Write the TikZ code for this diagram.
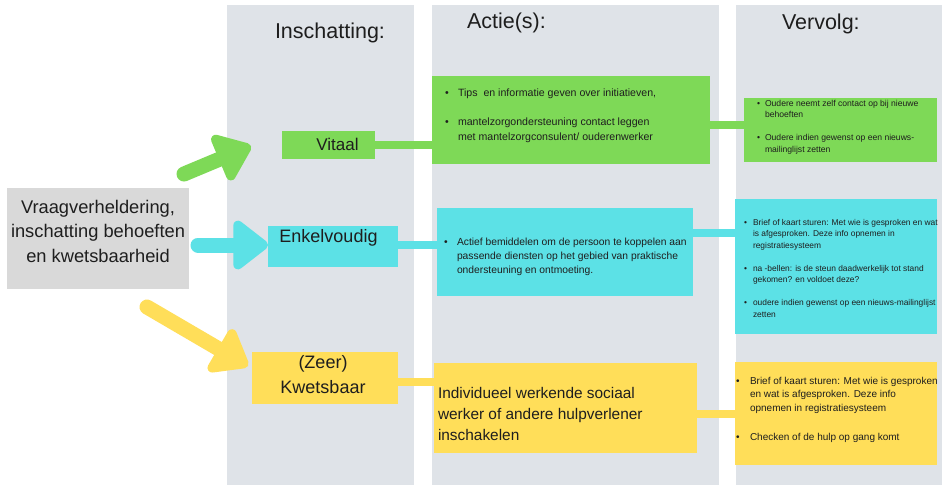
\documentclass[tikz,border=0pt]{standalone}
\usepackage{fontspec}
\setmainfont{Liberation Sans}
\usetikzlibrary{arrows.meta}

\definecolor{colbg}{HTML}{DFE3E8}
\definecolor{srcgray}{HTML}{D9D9D9}
\definecolor{vgreen}{HTML}{7ED957}
\definecolor{vcyan}{HTML}{5CE1E6}
\definecolor{vyellow}{HTML}{FFDE59}
\definecolor{ink}{HTML}{1E1E1E}

% font size / baseline skip
\newcommand\fs[2]{\fontsize{#1}{#2}\selectfont}
% bullet in a fixed-width slot
\newcommand\bu[1]{\makebox[#1][l]{•}}

\begin{document}
\begin{tikzpicture}[x=1pt,y=-1pt,
  box/.style={inner sep=0pt, outer sep=0pt, anchor=north west},
  lbl/.style={inner sep=0pt, outer sep=0pt, text=ink},
  link/.style={line width=8pt},
  bigarrow/.style={line width=15pt, line cap=round,
    -{Triangle[width=56pt,length=38pt,round]}},
]

\fill[white] (0,0) rectangle (942,485);
\useasboundingbox (0,0) rectangle (942,485);

% column backgrounds
\node[box, fill=colbg, minimum width=187pt, minimum height=480pt] (colA) at (227,5) {};
\node[box, fill=colbg, minimum width=287pt, minimum height=480pt] (colB) at (432,5) {};
\node[box, fill=colbg, minimum width=206pt, minimum height=480pt] (colC) at (736,5) {};

% column titles
\node[lbl, font=\fs{21.5}{26}, anchor=base west] (tA) at (275,38) {Inschatting:};
\node[lbl, font=\fs{21.5}{26}, anchor=base west] (tB) at (467,28) {Actie(s):};
\node[lbl, font=\fs{21.5}{26}, anchor=base west] (tC) at (782,29) {Vervolg:};

% starting point
\node[box, fill=srcgray, minimum width=182pt, minimum height=101pt] (src) at (7,188) {};
\node[lbl, font=\fs{18.3}{24.5}, anchor=base] (srct) at (98,213)
  {\begin{tabular}[t]{@{}c@{}}Vraagverheldering,\\ inschatting behoeften\\ en kwetsbaarheid\end{tabular}};

% assessment boxes
\node[box, fill=vgreen, minimum width=93pt, minimum height=28pt] (vit) at (282,131) {};
\node[lbl, font=\fs{17}{20}, anchor=base] (vitt) at (337.5,150) {Vitaal};

\node[box, fill=vcyan, minimum width=130pt, minimum height=41pt] (enk) at (268,226) {};
\node[lbl, font=\fs{18}{22}, anchor=base] (enkt) at (328.5,242) {Enkelvoudig};

\node[box, fill=vyellow, minimum width=146pt, minimum height=52pt] (kw) at (252,352) {};
\node[lbl, font=\fs{18}{25}, anchor=base] (kwt) at (323,368)
  {\begin{tabular}[t]{@{}c@{}}(Zeer)\\ Kwetsbaar\end{tabular}};

% action boxes
\node[box, fill=vgreen, minimum width=278pt, minimum height=88pt] (ga) at (432,76) {};
\node[lbl, font=\fs{10.6}{15}, anchor=base west] (gat) at (445,96)
  {\begin{tabular}[t]{@{}l@{}l@{}}
   \bu{13pt}&Tips\ \ en informatie geven over initiatieven,\\[14pt]
   \bu{13pt}&mantelzorgondersteuning contact leggen\\
   &met mantelzorgconsulent/ ouderenwerker
   \end{tabular}};

\node[box, fill=vcyan, minimum width=256pt, minimum height=88pt] (ca) at (437,208) {};
\node[lbl, font=\fs{10.3}{14}, anchor=base west] (cat) at (444,245)
  {\begin{tabular}[t]{@{}l@{}l@{}}
   \bu{13pt}&Actief bemiddelen om de persoon te koppelen aan\\
   &passende diensten op het gebied van praktische\\
   &ondersteuning en ontmoeting.
   \end{tabular}};

\node[box, fill=vyellow, minimum width=263pt, minimum height=90pt] (ya) at (434,363) {};
\node[lbl, font=\fs{15.4}{21}, anchor=base west] (yat) at (438,398)
  {\begin{tabular}[t]{@{}l@{}}
   Individueel werkende sociaal\\
   werker of andere hulpverlener\\
   inschakelen
   \end{tabular}};

% follow-up boxes
\node[box, fill=vgreen, minimum width=193pt, minimum height=64pt] (gv) at (744,98) {};
\node[lbl, font=\fs{8.6}{11.7}, anchor=base west] (gvt) at (757,106)
  {\begin{tabular}[t]{@{}l@{}l@{}}
   \bu{8pt}&Oudere neemt zelf contact op bij nieuwe\\
   &behoeften\\[11.5pt]
   \bu{8pt}&Oudere indien gewenst op een nieuws-\\
   &mailinglijst zetten
   \end{tabular}};

\node[box, fill=vcyan, minimum width=202pt, minimum height=135pt] (cv) at (735,199) {};
\node[lbl, font=\fs{8.4}{11.5}, anchor=base west] (cvt) at (744,225)
  {\begin{tabular}[t]{@{}l@{}l@{}}
   \bu{9pt}&Brief of kaart sturen: Met wie is gesproken en wat\\
   &is afgesproken. Deze info opnemen in\\
   &registratiesysteem\\[11.5pt]
   \bu{9pt}&na -bellen: is de steun daadwerkelijk tot stand\\
   &gekomen? en voldoet deze?\\[11.5pt]
   \bu{9pt}&oudere indien gewenst op een nieuws-mailinglijst\\
   &zetten
   \end{tabular}};

\node[box, fill=vyellow, minimum width=202pt, minimum height=103pt] (yv) at (735,362) {};
\node[lbl, font=\fs{10}{13.5}, anchor=base west] (yvt) at (736,384)
  {\begin{tabular}[t]{@{}l@{}l@{}}
   \bu{14pt}&Brief of kaart sturen: Met wie is gesproken\\
   &en wat is afgesproken. Deze info\\
   &opnemen in registratiesysteem\\[15.5pt]
   \bu{14pt}&Checken of de hulp op gang komt
   \end{tabular}};

% connectors between the boxes of one row
\draw[link, vgreen]  (vit.east) -- (ga.west |- vit.east);
\draw[link, vgreen]  (ga.east |- 0,125) -- (gv.west |- 0,125);
\draw[link, vcyan]   (enk.east |- 0,245) -- (ca.west |- 0,245);
\draw[link, vcyan]   (ca.east |- 0,233) -- (cv.west |- 0,233);
\draw[link, vyellow] (kw.east |- 0,382) -- (ya.west |- 0,382);
\draw[link, vyellow] (ya.east |- 0,414) -- (yv.west |- 0,414);

% big arrows from the starting point to the assessments
\coordinate (arGs) at (184,174); \coordinate (arGe) at (251,146);
\coordinate (arCs) at (198,245); \coordinate (arCe) at (268,245);
\coordinate (arYs) at (147,307); \coordinate (arYe) at (248,366);
\draw[bigarrow, vgreen]  (arGs) -- (arGe);
\draw[bigarrow, vcyan]   (arCs) -- (arCe);
\draw[bigarrow, vyellow] (arYs) -- (arYe);

\end{tikzpicture}
\end{document}
